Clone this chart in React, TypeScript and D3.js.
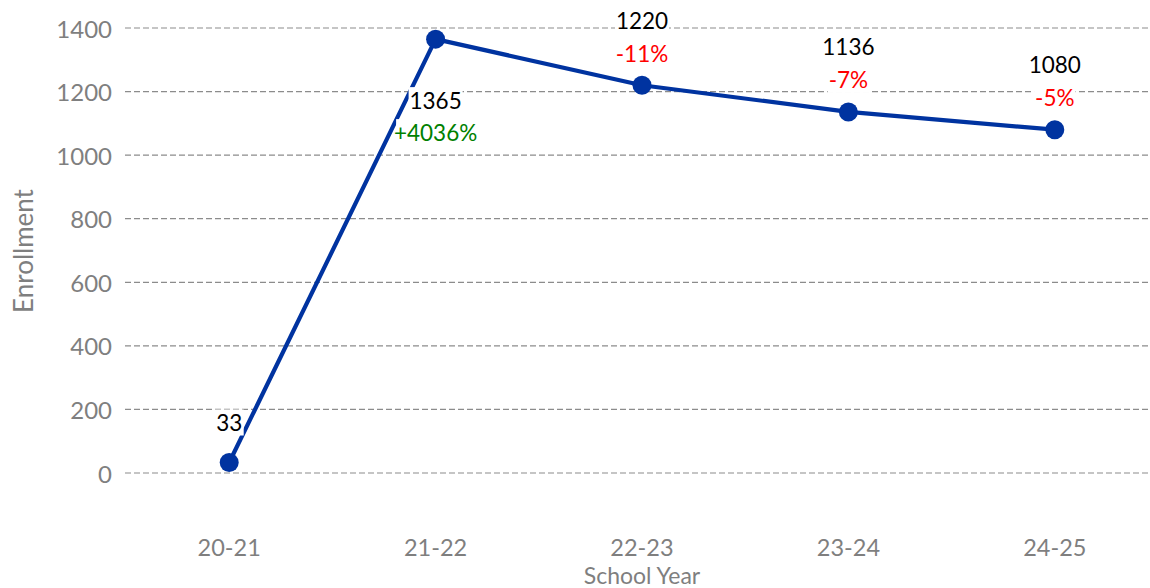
import React from "react";
import * as d3 from "d3";

const years = ["20-21", "21-22", "22-23", "23-24", "24-25"];
const enrollment = [33, 1365, 1220, 1136, 1080];
const yTicks = [0, 200, 400, 600, 800, 1000, 1200, 1400];

const W = 1150;
const H = 588;
const FONT = "Lato, 'Open Sans', sans-serif";
const GRAY = "#7f7f7f";
const LINE = "#0033a0";

function pctLabel(i: number) {
  if (i === 0) return null;
  const p = Math.round(((enrollment[i] - enrollment[i - 1]) / enrollment[i - 1]) * 100);
  return { text: (p > 0 ? "+" : "") + p + "%", color: p > 0 ? "#008000" : "#ff0000" };
}

export default function App() {
  const x = d3.scaleBand().domain(years).range([126, 1158]);
  const y = d3.scaleLinear().domain([0, 1400]).range([473, 28]);
  const cx = (d: string) => (x(d) ?? 0) + x.bandwidth() / 2;

  const line = d3
    .line<number>()
    .x((_, i) => cx(years[i]))
    .y((d) => y(d));

  const labels = enrollment.map((v, i) => {
    const px = cx(years[i]);
    const py = y(v);
    const pct = pctLabel(i);
    const prev = enrollment[i - 1];
    const next = enrollment[i + 1];
    // a peak gets its labels underneath so they stay inside the plot
    const below = prev !== undefined && next !== undefined && v > prev && v > next;
    let rows: { text: string; color: string; y: number }[];
    if (!pct) {
      rows = [{ text: String(v), color: "#000", y: py - 40 }];
    } else if (below) {
      rows = [
        { text: String(v), color: "#000", y: py + 61 },
        { text: pct.text, color: pct.color, y: py + 93 },
      ];
    } else {
      rows = [
        { text: String(v), color: "#000", y: py - 65 },
        { text: pct.text, color: pct.color, y: py - 32 },
      ];
    }
    return { px, rows };
  });

  const approxW = (s: string) => s.length * 12.5 + 4;

  return (
    <svg width={W} height={H} style={{ position: "absolute", left: 0, top: 0, background: "#fff" }}>
      <g>
        {yTicks.map((t) => (
          <g key={t}>
            <line
              x1={125}
              x2={1148}
              y1={y(t)}
              y2={y(t)}
              stroke="#8c8c8c"
              strokeWidth={1.2}
              strokeDasharray="6,3"
            />
            <text
              x={112}
              y={y(t)}
              textAnchor="end"
              dominantBaseline="central"
              fontFamily={FONT}
              fontSize={24}
              fill={GRAY}
            >
              {t}
            </text>
          </g>
        ))}
      </g>
      {years.map((d) => (
        <text
          key={d}
          x={cx(d)}
          y={547}
          textAnchor="middle"
          dominantBaseline="central"
          fontFamily={FONT}
          fontSize={23.5}
          fill={GRAY}
        >
          {d}
        </text>
      ))}
      <text
        x={642}
        y={575}
        textAnchor="middle"
        dominantBaseline="central"
        fontFamily={FONT}
        fontSize={23}
        fill={GRAY}
      >
        School Year
      </text>
      <text
        transform="translate(23,251) rotate(-90)"
        textAnchor="middle"
        dominantBaseline="central"
        fontFamily={FONT}
        fontSize={26}
        fill={GRAY}
      >
        Enrollment
      </text>
      <path d={line(enrollment) ?? ""} fill="none" stroke={LINE} strokeWidth={4.2} strokeLinejoin="round" />
      {enrollment.map((v, i) => (
        <circle key={i} cx={cx(years[i])} cy={y(v)} r={9.5} fill={LINE} />
      ))}
      {labels.map((l, i) => (
        <g key={i}>
          {l.rows.map((r, j) => {
            const w = approxW(r.text);
            return (
              <g key={j}>
                <rect x={l.px - w / 2} y={r.y - 13} width={w} height={26} fill="#fff" />
                <text
                  x={l.px}
                  y={r.y}
                  textAnchor="middle"
                  dominantBaseline="central"
                  fontFamily={FONT}
                  fontSize={22.5}
                  fill={r.color}
                >
                  {r.text}
                </text>
              </g>
            );
          })}
        </g>
      ))}
    </svg>
  );
}
